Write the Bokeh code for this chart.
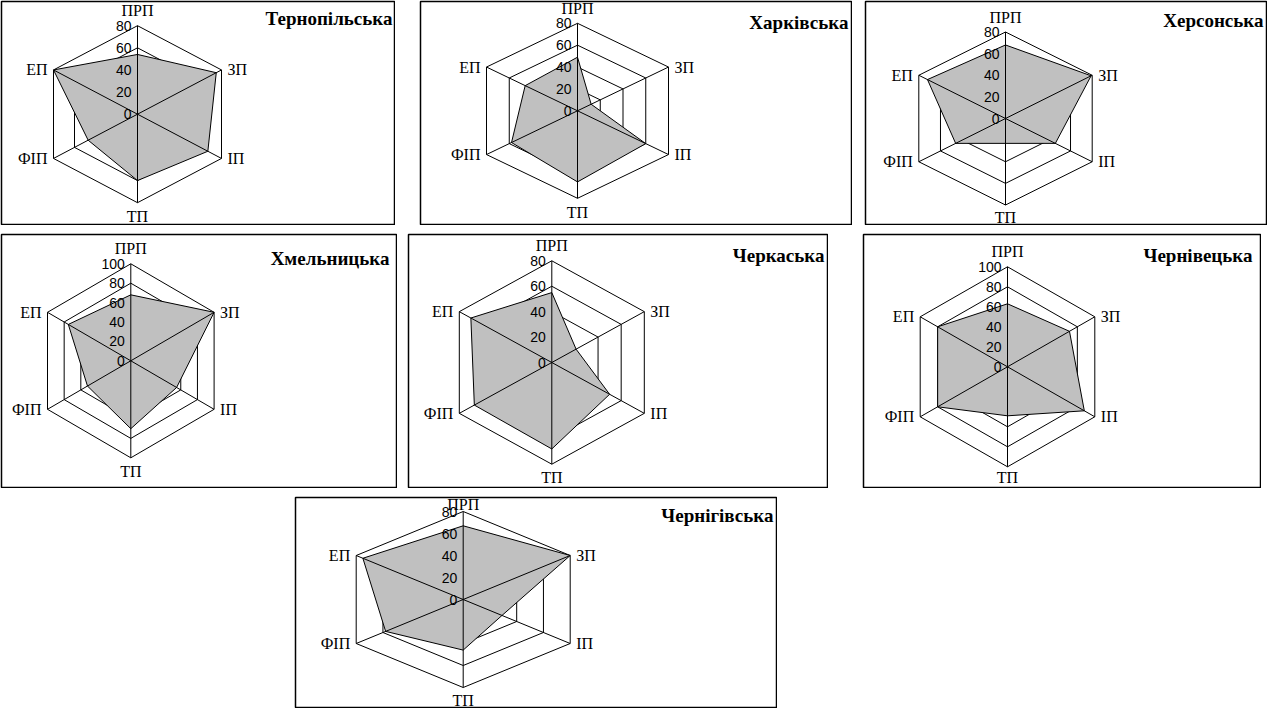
import math
from bokeh.plotting import figure
from bokeh.layouts import column, row
from bokeh.models import Range1d, Spacer, Label
from bokeh.core.properties import value
from bokeh.embed import file_html
from bokeh.resources import INLINE

# ---- data ----
categories = ["ПРП", "ЗП", "ІП", "ТП", "ФІП", "ЕП"]
angles_deg = [90, 30, -30, -90, -150, 150]

ternopilska = [54, 75, 67, 60, 47, 80]
kharkivska = [49, 12, 60, 65, 58, 46]
khersonska = [68, 79, 46, 23, 46, 72]
khmelnytska = [68, 100, 55, 70, 52, 75]
cherkaska = [55, 21, 50, 68, 67, 70]
chernivetska = [63, 71, 88, 49, 80, 80]
chernihivska = [67, 80, 29, 46, 58, 75]

ticks_80 = [0, 20, 40, 60, 80]
ticks_100 = [0, 20, 40, 60, 80, 100]

titles = ["Тернопільська", "Харківська", "Херсонська", "Хмельницька",
          "Черкаська", "Чернівецька", "Чернігівська"]
series = [ternopilska, kharkivska, khersonska, khmelnytska,
          cherkaska, chernivetska, chernihivska]
tick_sets = [ticks_80, ticks_80, ticks_80, ticks_100, ticks_80, ticks_100, ticks_80]

# ---- layout geometry (page pixels) ----
geom = [
    dict(x0=8, y0=8, w=395, h=225, cx=145, cy=121.7, R=88.5, Hx=84, tr=2, tdy=17, top=15, bot=14),
    dict(x0=427, y0=8, w=433, h=225, cx=585, cy=118.3, R=87.5, Hx=91, tr=3, tdy=21, top=15, bot=14),
    dict(x0=872, y0=8, w=403, h=225, cx=1013, cy=126, R=86.5, Hx=86.7, tr=3, tdy=19, top=15, bot=12),
    dict(x0=8, y0=241, w=397, h=255, cx=138.3, cy=368.3, R=97, Hx=83.3, tr=7, tdy=24, top=15, bot=14),
    dict(x0=415, y0=241, w=421, h=255, cx=559.3, cy=370, R=101.7, Hx=92.5, tr=3, tdy=21, top=15, bot=13),
    dict(x0=870, y0=241, w=399, h=255, cx=1015, cy=374.3, R=100, Hx=87.3, tr=8, tdy=21, top=15, bot=11),
    dict(x0=302, y0=504, w=483, h=212, cx=470.7, cy=607, R=88, Hx=107, tr=3, tdy=18, top=7, bot=13),
]

SANS = "Liberation Sans"
SERIF = "Liberation Serif"


def make_panel(title, vals, ticks, g):
    vmax = ticks[-1]
    c30 = math.cos(math.radians(30))
    sx = g["Hx"] / (c30 * vmax)
    sy = g["R"] / vmax
    fx0, fx1 = g["x0"] + 1, g["x0"] + g["w"] - 1
    fy0, fy1 = g["y0"] + 1, g["y0"] + g["h"] - 1
    xr = Range1d((fx0 - g["cx"]) / sx, (fx1 - g["cx"]) / sx)
    yr = Range1d((g["cy"] - fy1) / sy, (g["cy"] - fy0) / sy)
    p = figure(width=g["w"], height=g["h"], x_range=xr, y_range=yr,
               output_backend="svg", toolbar_location=None,
               x_axis_location=None, y_axis_location=None, min_border=1,
               outline_line_color="black", outline_line_width=1.5,
               background_fill_color="white", border_fill_color="white")
    p.grid.visible = False

    angs = [math.radians(a) for a in angles_deg]
    cosv = [math.cos(a) for a in angs]
    sinv = [math.sin(a) for a in angs]

    # rings
    ring_xs = [[t * c for c in cosv + [cosv[0]]] for t in ticks[1:]]
    ring_ys = [[t * s for s in sinv + [sinv[0]]] for t in ticks[1:]]
    p.multi_line(ring_xs, ring_ys, line_color="black", line_width=1)

    # data polygon
    px = [v * c for v, c in zip(vals, cosv)]
    py = [v * s for v, s in zip(vals, sinv)]
    p.patch(px, py, fill_color="#C0C0C0", line_color="black", line_width=1)

    # spokes
    p.multi_line([[0, vmax * c] for c in cosv], [[0, vmax * s] for s in sinv],
                 line_color="black", line_width=1)

    # tick labels
    p.text(x=[0] * len(ticks), y=ticks, text=[str(t) for t in ticks],
           text_align="right", text_baseline="middle", x_offset=-6,
           text_font=value(SANS), text_font_size="14px", text_color="black")

    # category labels (annotations, not clipped by the frame)
    for cat, c, s in zip(categories, cosv, sinv):
        lx, ly = vmax * c, vmax * s
        if abs(c) < 1e-6:
            align = "center"
            ly += (g["top"] / sy) if s > 0 else -(g["bot"] / sy)
        elif c > 0:
            align = "left"
            lx += 6 / sx
        else:
            align = "right"
            lx -= 6 / sx
        p.add_layout(Label(x=lx, y=ly, text=cat, text_align=align,
                           text_baseline="middle", text_font=SERIF,
                           text_font_size="16px", text_color="black"))

    # title
    p.text(x=[xr.end], y=[yr.end], text=[title], text_align="right",
           text_baseline="middle", x_offset=-g["tr"], y_offset=g["tdy"],
           text_font=value(SERIF), text_font_style="bold", text_font_size="19px",
           text_color="black")
    return p


figs = [make_panel(t, v, tk, g) for t, v, tk, g in zip(titles, series, tick_sets, geom)]

row1 = row(figs[0], Spacer(width=24, height=10), figs[1], Spacer(width=12, height=10), figs[2])
row2 = row(figs[3], Spacer(width=10, height=10), figs[4], Spacer(width=34, height=10), figs[5])
row3 = row(Spacer(width=294, height=10), figs[6])
layout = column(row1, Spacer(width=10, height=8), row2, Spacer(width=10, height=8), row3)

open("out.html", "w").write(file_html(layout, INLINE))
